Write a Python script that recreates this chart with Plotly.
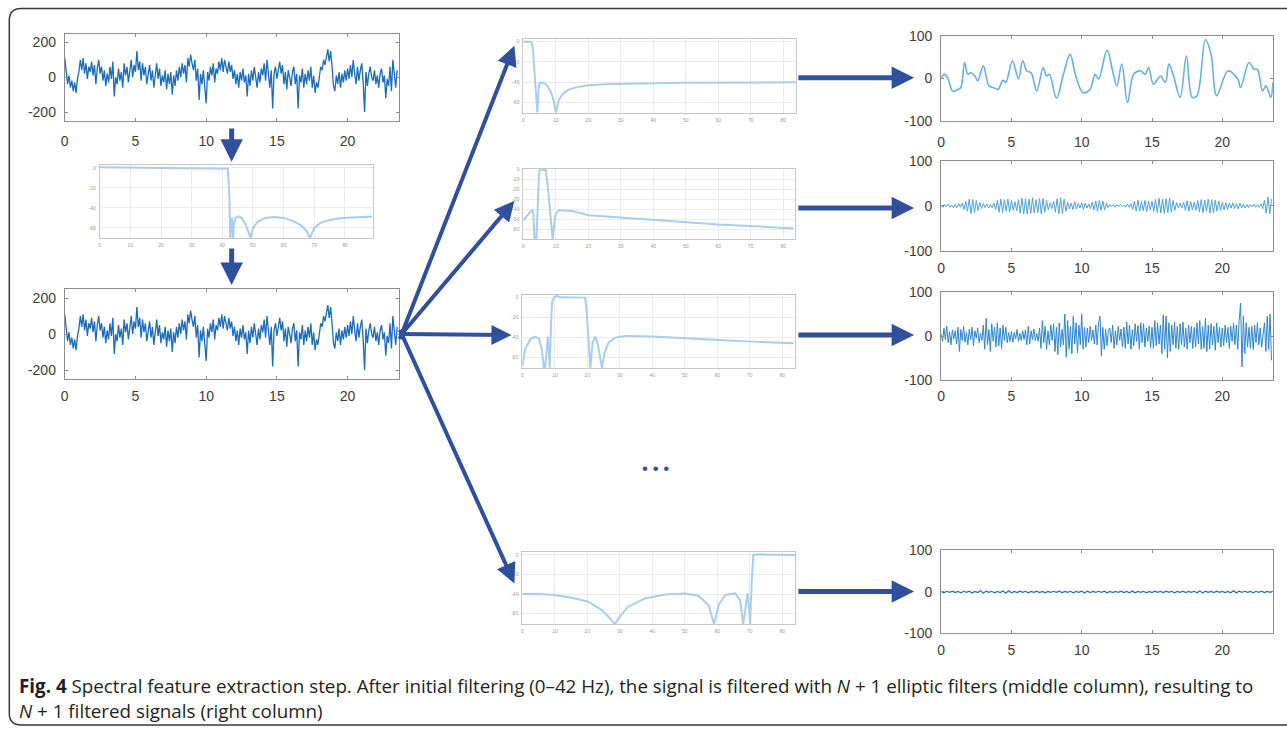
import plotly.graph_objects as go

# All positions below are given in target-picture pixels (1287 x 729).
# The capture maps page pixels to picture pixels as  y_pic = 0.977*y_page + 7.4,
# x_pic = 0.9976*x_page + 3.2, so positions are converted back to page pixels.
W = 1287
H = 740
SY, OY = 0.977, 7.4
SX, OX = 0.9976, 3.2

# ------------------------------------------------------------------ data
signal_step = 0.1          # s between samples of the raw/pre-filtered EEG and band 3
raw_eeg = [
    110, 20, -40, 10, -60, -20, -80, -30, -90, -10,
    30, 100, 40, 110, 20, 80, -10, 60, 30, 90,
    10, 70, -40, 50, 100, 20, 60, -20, 40, -50,
    20, -30, 60, -10, 90, -110, 0, -40, 50, -20,
    30, -60, 80, 10, 60, -30, 40, 100, 0, 70,
    30, 150, 40, 90, -20, 80, 10, 60, -40, 30,
    70, -20, 40, -60, 20, 80, -10, 50, -50, 10,
    -30, 40, -70, 20, -40, 30, -100, 10, -50, 40,
    -20, 60, 0, 80, 20, 70, -30, 110, 60, 130,
    80, 40, 100, -20, 50, -130, 20, -40, 40, -60,
    -150, 30, -20, 60, 10, 80, -30, 50, 20, 90,
    40, 110, 30, 100, 60, 20, 90, 30, 70, -10,
    40, -40, 20, -60, 30, -20, 50, -30, 10, -110,
    20, -50, 40, -20, 60, 0, -60, 30, -30, 50,
    10, 80, -20, 100, 30, -60, 40, -180, 20, 60,
    -10, 50, 90, 20, 70, -40, 30, -70, 40, 0,
    -50, 30, 60, -40, 20, -180, 10, -30, 50, -60,
    20, -40, 40, -20, 60, -60, 10, -90, -30, -60,
    20, 60, 40, 100, 70, 130, 160, 90, 150, 60,
    -50, -80, 10, -40, 30, -60, 20, -30, 40, -20,
    50, -10, 70, 0, 100, 20, -40, 60, -20, 40,
    80, -30, -200, 30, -50, 20, 60, 0, -20, 40,
    -40, 10, -60, 20, 50, -30, 10, -120, -10, -50,
    60, -80, 100, 20, -60, 40,
]
prefiltered_eeg = list(raw_eeg)   # 0-42 Hz version looks identical at this scale

# initial 0-42 Hz elliptic low-pass (dB)
lp_freq = [0, 10, 20, 30, 40, 41.8, 42.3, 42.6, 42.9, 43.2, 43.5, 43.8, 44.3, 45.2, 46.3,
           47.5, 48.5, 49.2, 50, 51.5, 54, 57, 60, 63, 65.5, 67.5, 68.6, 69.2, 70, 72,
           75, 79, 84, 89]
lp_db = [0.5, 0.3, 0, 0, -0.3, -0.8, -30, -70, -55, -50, -70, -56, -50, -48.5, -50,
         -56, -64, -70, -60, -54, -50, -49, -50, -53, -57, -63, -70, -66, -60, -55,
         -52, -50, -49, -48.5]

# band filters (dB)
f1_freq = [0, 1, 2, 2.6, 3.0, 3.5, 4.0, 4.3, 4.5, 4.8, 5.5, 6.5, 7.5, 8.5, 9.3, 10.0,
           10.8, 12, 13.5, 15, 17, 20, 25, 30, 40, 50, 60, 70, 84]
f1_db = [0, 0, 0, -1, -10, -35, -60, -70, -55, -42, -40, -41, -44, -50, -58, -70,
         -58, -52, -48, -46, -44.5, -43, -42, -41.5, -41, -40.5, -40.3, -40.2, -40]

f2_freq = [0, 1.0, 2.05, 2.8, 3.1, 3.4, 4.0, 4.4, 4.8, 5.1, 6.2, 6.9, 7.7, 8.5, 9.0, 9.5,
           10.0, 10.8, 14.9, 20, 30.3, 39.5, 49.8, 60, 69.8, 79.6, 83.2]
f2_db = [-50.7, -46.7, -42.3, -40.7, -45, -70, -70, -37, -3.3, 0, 0, -0.7, -23, -53, -70, -54,
         -44, -40.7, -41.3, -45.7, -48, -50.7, -52.7, -55, -56.3, -58, -59]

f3_freq = [0, 0.8, 2.4, 3.9, 5.1, 6.0, 6.6, 7.0, 7.4, 7.8, 8.1, 8.4, 8.8, 9.1, 9.7, 10.6,
           11.6, 19.3, 19.8, 20.3, 20.9, 21.6, 22.4, 23.2, 24.5, 25.3, 26.5, 28.6, 31.7,
           39.9, 50.2, 60.4, 70.7, 83.6]
f3_db = [-68.3, -51.7, -41.7, -39, -41, -51.7, -70, -70, -55, -39, -51.7, -70, -28, -5, 0, 1.7,
         0, -0.3, -15, -41.7, -70, -45, -39, -46.7, -70, -55, -45, -40, -38.3,
         -39, -40.3, -42.3, -44, -45.7]

f4_freq = [0, 4.9, 10, 15.2, 20.3, 24.4, 27, 28.5, 30, 32.6, 37.7, 43.9, 50.1, 54.2, 57.3,
           59, 60.4, 62.4, 65.5, 67, 68, 68.7, 69.3, 69.8, 70.1, 70.6, 71.1, 72.6, 79.8, 83.9]
f4_db = [-40, -40, -41, -43.8, -47.9, -56.5, -65, -71, -63, -53, -44.5, -40.4, -39.4, -41.8,
         -51.4, -71, -51.4, -41, -39.4, -46.2, -71, -54.8, -39.4, -54.8, -71, -27.4, 0, 0.7,
         0.7, 0]

# filtered output signals
band1_time = [0, 0.24, 0.45, 0.83, 1.2, 1.4, 1.67, 1.9, 2.14, 2.4, 2.6, 3.0, 3.4, 3.7, 4.05,
              4.4, 4.6, 5.07, 5.5, 5.8, 6.1, 6.4, 6.8, 7.26, 7.5, 7.7, 8.2, 8.7, 9.17, 9.6,
              10.1, 10.6, 10.95, 11.2, 11.8, 12.2, 12.5, 12.85, 13.26, 13.7, 14.2, 14.5,
              14.76, 15.1, 15.6, 15.95, 16.2, 16.5, 17.0, 17.45, 17.86, 18.2, 18.8, 19.2,
              19.6, 20.4, 21.1, 21.3, 21.9, 22.26, 22.5, 22.86, 23.1, 23.45, 23.6]
band1_value = [0, 9, 2, -31, -26, -22, 37, 9, 13, 5, -6, 29, -18, -22, -26, -5, -10, 41, -2,
               41, 17, 13, -30, 25, 5, 9, -47, 9, 56, 2, -34, -26, 9, -2, 66, 17, -18, 33,
               -57, 9, 17, 9, 25, -14, 5, -10, 33, 9, -45, 52, -45, -41, 91, 56, -41, 17,
               -2, -22, 37, 21, 21, -30, -18, -45, -10]

band2_step = 0.125
band2_value = [
    2, -3, 3, -2, 4, -3, 2, -4,
    3, -4, 5, -3, 6, -8, 10, -12,
    15, -17, 14, -15, 12, -10, 8, -6,
    5, -4, 4, -5, 3, -4, 6, -8,
    12, -14, 15, -15, 14, -12, 15, -14,
    12, -10, 9, -11, 14, -16, 17, -18,
    16, -18, 15, -17, 18, -16, 14, -15,
    17, -18, 16, -14, 12, -9, 7, -6,
    10, -14, 16, -18, 18, -17, 15, -12,
    8, -7, 6, -8, 9, -7, 6, -5,
    7, -8, 6, -5, 4, -6, 8, -9,
    11, -12, 12, -10, 11, -9, 6, -4,
    3, -2, 3, -3, 2, -2, 3, -2,
    2, -3, 4, -3, 5, -8, 10, -12,
    13, -12, 10, -11, 12, -13, 11, -9,
    10, -12, 14, -15, 17, -16, 15, -17,
    16, -15, 17, -14, 12, -10, 7, -5,
    6, -5, 8, -10, 11, -12, 10, -9,
    8, -10, 12, -13, 14, -15, 13, -12,
    15, -16, 14, -15, 13, -12, 11, -10,
    8, -9, 7, -8, 6, -5, 7, -6,
    5, -7, 6, -5, 4, -5, 3, -4,
    3, -2, 4, -3, 2, -3, 4, -6,
    12, -16, 20, -18, 15,
]

band3_value = [
    5, -12, 18, -8, 22, -15, 10, -20, 14, -6,
    12, -18, 20, -35, 15, -10, 22, -14, 8, -20,
    16, -8, 20, -22, 12, -5, 18, -15, 6, -10,
    25, -30, 40, -20, 15, -35, 28, -12, 20, -25,
    30, -22, 18, -28, 25, -10, 20, -15, 8, -12,
    10, -14, 8, -6, 15, -12, 6, -10, 12, -8,
    14, -20, 22, -18, 12, -8, 16, -10, 6, -12,
    18, -28, 35, -15, 22, -30, 12, -20, 25, -10,
    28, -35, 20, -42, 30, -25, 15, -20, 50, -48,
    35, -30, 22, -40, 45, -18, 30, -38, 25, -20,
    50, -30, 20, -25, 18, -15, 22, -10, 14, -18,
    25, -20, 30, 45, -45, 20, -30, 15, -22, 12,
    18, -15, 25, -28, 12, -20, 22, -10, 16, -25,
    20, -28, 32, -18, 25, -30, 15, -22, 28, -12,
    24, -30, 30, -15, 28, -25, 18, -12, 22, -26,
    20, -28, 35, -22, 30, -18, 25, -40, 48, -30,
    45, -50, 30, -35, 25, -20, 32, -28, 22, -30,
    28, -20, 32, -25, 18, -30, 25, -15, 22, -28,
    20, -25, 30, -18, 35, -30, 22, -28, 40, -35,
    25, -30, 28, -20, 22, -32, 30, -15, 20, -25,
    18, -22, 25, -15, 20, -28, 22, -12, 30, -20,
    25, -30, 35, 75, -70, 45, -40, 30, -25, 20,
    -28, 22, -30, 25, -15, 30, -20, 18, -25, 12,
    30, -35, 45, -30, 50, -55,
]

bandN_step = 0.2
bandN_value = [
    1, -2, 1.5, -1, 2, -1.5, 1, -2, 1.5, -1,
    2, -2.5, 1, -1.5, 3, -3, 2, -1, 1.5, -2,
    1, -1.5, 2.5, -3, 3, -2, 1, -1.5, 2, -1,
    1.5, -2, 1, -1, 2, -1.5, 1, -2, 1, -1,
    1.5, -1, 2, -1.5, 1, -1, 1.5, -2, 1, -1,
    2, -2.5, 2, -1.5, 1, -1, 1.5, -1, 2, -2,
    1, -1.5, 1, -1, 2, -1.5, 1, -2, 2.5, -2,
    1, -1, 1.5, -2, 1, -1.5, 2, -1, 1, -1.5,
    2, -1, 1.5, -2, 1, -1, 2, -1.5, 1, -1,
    1.5, -2, 2.5, -2.5, 2, -1, 1, -1.5, 2, -1,
    1, -1.5, 1, -2, 3, -2.5, 2, -1, 1.5, -1,
    1, -2, 1.5, -1, 2, -1.5, 1, -1, 1.5,
]

time_ticks = [0, 5, 10, 15, 20]
eeg_ticks = [-200, 0, 200]
band_ticks = [-100, 0, 100]
freq_ticks = [0, 10, 20, 30, 40, 50, 60, 70, 80]
db_ticks = [0, -20, -40, -60]
db_ticks_fine = [0, -10, -20, -30, -40, -50, -60]

caption_1 = ("<b>Fig. 4</b> Spectral feature extraction step. After initial filtering (0–42 Hz), "
             "the signal is filtered with <i>N</i> + 1 elliptic filters (middle column), resulting to")
caption_2 = "<i>N</i> + 1 filtered signals (right column)"

# ------------------------------------------------------------------ figure
fig = go.Figure()
layout = {}

def times(n, step):
    return [round(i * step, 4) for i in range(n)]

def px(r):          # picture x -> figure pixel x
    return (r - OX) / SX

def py(r):          # picture y -> figure pixel y
    return (r - OY) / SY

def fx(rx):
    return px(rx) / W

def fy(ry):
    return 1 - py(ry) / H

def dom(box):
    x0, y0, x1, y1 = box
    return [fx(x0), fx(x1)], [fy(y1), fy(y0)]

tick_font = dict(family="Liberation Sans, Arial, sans-serif", size=14, color="#3c3c3c")

def signal_panel(i, box, xr, yr, yt, standoff=9):
    xd, yd = dom(box)
    ax_line = "#8c8c8c"
    layout["xaxis%d" % i] = dict(
        domain=xd, range=xr, anchor="y%d" % i, tickvals=time_ticks,
        ticktext=[str(v) for v in time_ticks], ticks="inside", ticklen=3,
        tickcolor=ax_line, showline=True, linecolor=ax_line, linewidth=1, mirror="ticks",
        showgrid=False, zeroline=False, tickfont=tick_font, ticklabelstandoff=standoff,
        fixedrange=True)
    layout["yaxis%d" % i] = dict(
        domain=yd, range=yr, anchor="x%d" % i, tickvals=yt,
        ticktext=[str(v) for v in yt], ticks="inside", ticklen=3,
        tickcolor=ax_line, showline=True, linecolor=ax_line, linewidth=1, mirror="ticks",
        showgrid=False, zeroline=False, tickfont=tick_font, ticklabelstandoff=5,
        fixedrange=True)

def filter_panel(i, box, xr, yr, yt):
    xd, yd = dom(box)
    tiny = dict(family="Liberation Sans, Arial", size=5, color="#9a9a9a")
    common = dict(showgrid=True, gridcolor="#ebebeb", gridwidth=1, showline=True,
                  linecolor="#c6c6c6", linewidth=1, mirror=True, ticks="",
                  zeroline=False, tickfont=tiny, fixedrange=True)
    layout["xaxis%d" % i] = dict(domain=xd, range=xr, anchor="y%d" % i,
                                 tickvals=freq_ticks, ticklabelstandoff=2, **common)
    layout["yaxis%d" % i] = dict(domain=yd, range=yr, anchor="x%d" % i,
                                 tickvals=yt, ticktext=[str(v) for v in yt],
                                 ticklabelstandoff=2, **common)

eeg_color = "#1a6cbc"
filt_color = "#a9cdec"

# left column
signal_panel(1, (64, 33, 398, 120), [0, 23.6], [-250, 250], eeg_ticks, 7)
fig.add_trace(go.Scatter(x=times(len(raw_eeg), signal_step), y=raw_eeg, xaxis="x", yaxis="y",
                         mode="lines", line=dict(color=eeg_color, width=1.3)))
filter_panel(2, (99, 164, 372, 237), [0, 89], [-70, 3], db_ticks)
fig.add_trace(go.Scatter(x=lp_freq, y=lp_db, xaxis="x2", yaxis="y2", mode="lines",
                         line=dict(color=filt_color, width=2)))
signal_panel(3, (64, 288, 398, 378), [0, 23.6], [-250, 250], eeg_ticks, 4)
fig.add_trace(go.Scatter(x=times(len(prefiltered_eeg), signal_step), y=prefiltered_eeg,
                         xaxis="x3", yaxis="y3", mode="lines",
                         line=dict(color=eeg_color, width=1.3)))

# middle column
filter_panel(4, (523, 38, 796, 112), [0, 84], [-70, 3], db_ticks)
fig.add_trace(go.Scatter(x=f1_freq, y=f1_db, xaxis="x4", yaxis="y4", mode="lines",
                         line=dict(color=filt_color, width=2)))
filter_panel(5, (523, 168, 795, 238), [0, 83.7], [-69.3, 0.7], db_ticks_fine)
fig.add_trace(go.Scatter(x=f2_freq, y=f2_db, xaxis="x5", yaxis="y5", mode="lines",
                         line=dict(color=filt_color, width=2)))
filter_panel(6, (522, 294, 795, 367), [0, 84], [-70.3, 2.3], db_ticks)
fig.add_trace(go.Scatter(x=f3_freq, y=f3_db, xaxis="x6", yaxis="y6", mode="lines",
                         line=dict(color=filt_color, width=2)))
filter_panel(7, (522, 551, 795, 623), [0, 84], [-71.2, 2.7], db_ticks)
fig.add_trace(go.Scatter(x=f4_freq, y=f4_db, xaxis="x7", yaxis="y7", mode="lines",
                         line=dict(color=filt_color, width=2)))

# right column
signal_panel(8, (941, 35, 1273, 120), [0, 23.6], [-100, 100], band_ticks, 8)
fig.add_trace(go.Scatter(x=band1_time, y=band1_value, xaxis="x8", yaxis="y8", mode="lines",
                         line=dict(color="#66b0e6", width=1.6, shape="spline", smoothing=1.0)))
signal_panel(9, (941, 160, 1273, 250), [0, 23.6], [-100, 100], band_ticks, 4)
fig.add_trace(go.Scatter(x=times(len(band2_value), band2_step), y=band2_value, xaxis="x9",
                         yaxis="y9", mode="lines", line=dict(color="#4aa2e0", width=1)))
signal_panel(10, (941, 291, 1273, 379), [0, 23.6], [-100, 100], band_ticks, 3)
fig.add_trace(go.Scatter(x=times(len(band3_value), signal_step), y=band3_value, xaxis="x10",
                         yaxis="y10", mode="lines", line=dict(color="#2a86d2", width=1)))
signal_panel(11, (941, 549, 1273, 632), [0, 23.6], [-100, 100], band_ticks, 4)
fig.add_trace(go.Scatter(x=times(len(bandN_value), bandN_step), y=bandN_value, xaxis="x11",
                         yaxis="y11", mode="lines", line=dict(color="#1f6fb5", width=1.2)))

layout["xaxis"] = layout.pop("xaxis1")
layout["yaxis"] = layout.pop("yaxis1")
layout["xaxis"]["anchor"] = "y"
layout["yaxis"]["anchor"] = "x"

# ------------------------------------------------------------------ decorations
arrow_color = "#30509c"
annotations = []

def arrow(x0, y0, x1, y1, width, size=1.0):
    annotations.append(dict(
        x=fx(x1), y=fy(y1), xref="paper", yref="paper",
        ax=(x0 - x1) / SX, ay=(y0 - y1) / SY, axref="pixel", ayref="pixel",
        showarrow=True, arrowhead=2, arrowsize=size, arrowwidth=width,
        arrowcolor=arrow_color, text="", standoff=0, startstandoff=0))

arrow(231, 127, 231, 161, 5, 0.9)
arrow(231, 247, 231, 284, 5, 0.9)
for tx, ty in [(514, 45), (514, 200), (511, 334), (514, 582)]:
    arrow(399, 333, tx, ty, 4, 1.0)
for y0, y1 in [(77, 77), (207, 207), (334, 334), (590, 590)]:
    arrow(797, y0, 914, y1, 5, 0.9)

annotations.append(dict(x=fx(655), y=fy(467), xref="paper", yref="paper",
                        text="• • •", showarrow=False, xanchor="center", yanchor="middle",
                        font=dict(family="Liberation Sans, Arial", size=17, color=arrow_color)))

cap_font = dict(family="Open Sans, Noto Sans, sans-serif", size=18.8, color="#231f20")
annotations.append(dict(x=fx(16), y=fy(684), xref="paper", yref="paper", text=caption_1,
                        showarrow=False, xanchor="left", yanchor="middle", font=cap_font))
annotations.append(dict(x=fx(16), y=fy(709), xref="paper", yref="paper", text=caption_2,
                        showarrow=False, xanchor="left", yanchor="middle", font=cap_font))

def P(x, y):
    return "%.5f,%.5f" % (fx(x), fy(y))

# rounded frame (left part; right side runs off the picture)
bt, bb, bl = 7.8, 723.5, 8.5
border = ("M " + P(1300, bt) + " L " + P(bl + 12, bt) + " Q " + P(bl, bt) + " " + P(bl, bt + 12) +
          " L " + P(bl, bb - 12) + " Q " + P(bl, bb) + " " + P(bl + 12, bb) + " L " + P(1300, bb))
shapes = [dict(type="path", path=border, xref="paper", yref="paper",
               line=dict(color="#3a3a3a", width=1.5), layer="above")]

fig.update_layout(
    width=W, height=H, autosize=False,
    margin=dict(l=0, r=0, t=0, b=0, pad=0),
    paper_bgcolor="white", plot_bgcolor="white",
    showlegend=False, annotations=annotations, shapes=shapes,
    **layout,
)

page_fix = ("document.body.style.margin='0px';"
            "document.body.style.overflow='hidden';"
            "document.documentElement.style.overflow='hidden';")
fig.write_html("out.html", config=dict(displayModeBar=False, responsive=False),
               post_script=page_fix)
